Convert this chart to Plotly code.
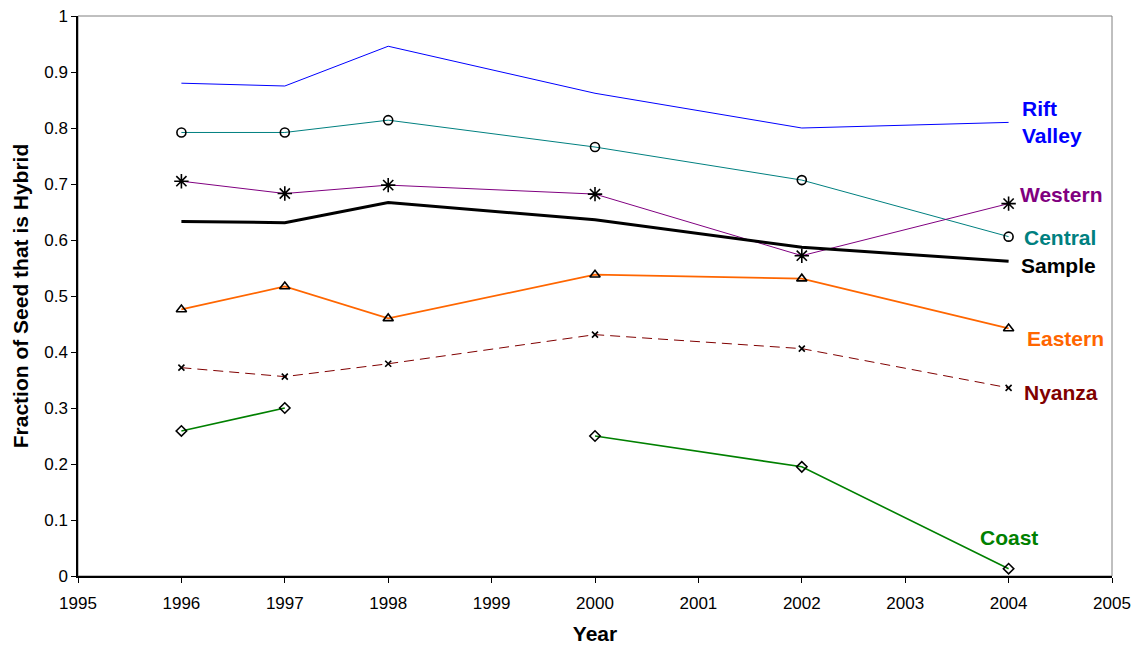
import plotly.graph_objects as go

years = [1996, 1997, 1998, 2000, 2002, 2004]
rift_valley = [0.880, 0.875, 0.946, 0.862, 0.800, 0.810]
central = [0.792, 0.792, 0.814, 0.766, 0.707, 0.606]
western = [0.705, 0.683, 0.698, 0.682, 0.572, 0.665]
sample = [0.633, 0.631, 0.667, 0.636, 0.587, 0.562]
eastern = [0.476, 0.517, 0.460, 0.538, 0.531, 0.442]
nyanza = [0.372, 0.356, 0.379, 0.431, 0.406, 0.336]
coast = [0.259, 0.300, None, 0.250, 0.195, 0.013]

x_ticks = list(range(1995, 2006))
y_ticks = [0, 0.1, 0.2, 0.3, 0.4, 0.5, 0.6, 0.7, 0.8, 0.9, 1]

FONT = "Liberation Sans, Arial, sans-serif"

series = [
    ("Rift Valley", rift_valley, "#0000FF", 1, "solid", None, 0),
    ("Central", central, "#008080", 1, "solid", "circle-open", 9),
    ("Western", western, "#800080", 1, "solid", "asterisk-open", 12),
    ("Sample", sample, "#000000", 3, "solid", None, 0),
    ("Eastern", eastern, "#FF6600", 1.8, "solid", "triangle-up-open", 9),
    ("Nyanza", nyanza, "#800000", 1, "10px,6px", "x-thin-open", 6),
    ("Coast", coast, "#008000", 1.6, "solid", "diamond-open", 8),
]

fig = go.Figure()
for name, vals, color, width, dash, sym, size in series:
    mode = "lines+markers" if sym else "lines"
    marker = dict(symbol=sym, size=size, color="#000000",
                  line=dict(color="#000000", width=1.6)) if sym else None
    fig.add_trace(go.Scatter(
        x=years, y=vals, name=name, mode=mode,
        line=dict(color=color, width=width, dash=dash),
        marker=marker, connectgaps=False, showlegend=False,
    ))

labels = [
    ("Rift<br>Valley", 0.811, "#0000FF", 11, "left"),
    ("Western", 0.682, "#800080", 9, "left"),
    ("Central", 0.604, "#008080", 13, "left"),
    ("Sample", 0.554, "#000000", 10, "left"),
    ("Eastern", 0.425, "#FF6600", 16, "left"),
    ("Nyanza", 0.328, "#800000", 13, "left"),
    ("Coast", 0.069, "#008000", 0, "center"),
]
for text, yv, color, xs, anchor in labels:
    fig.add_annotation(
        x=2004, y=yv, xref="x", yref="y", text=text, showarrow=False,
        xanchor=anchor, yanchor="middle", xshift=xs, align="left",
        font=dict(family=FONT, size=21, color=color, weight="bold"),
    )

fig.add_shape(type="rect", xref="paper", yref="paper", x0=0, y0=0, x1=1, y1=1,
              line=dict(color="#808080", width=1), layer="below")

fig.update_layout(
    width=1137, height=647,
    margin=dict(l=78, r=25, t=16, b=71),
    paper_bgcolor="white", plot_bgcolor="white",
    font=dict(family=FONT, size=17, color="#000000"),
    hovermode=False,
)
fig.update_xaxes(
    range=[1995, 2005], tickvals=x_ticks, ticktext=[str(v) for v in x_ticks],
    showgrid=False, zeroline=False, showline=True, linecolor="#000000", linewidth=1.5,
    ticks="outside", ticklen=5, tickcolor="#000000", ticklabelstandoff=6,
    ticklabeloverflow="allow", automargin=False,
    tickfont=dict(family=FONT, size=17),
    title=dict(text="Year", font=dict(family=FONT, size=21, weight="bold"), standoff=14),
)
fig.update_yaxes(
    range=[0, 1], tickvals=y_ticks, ticktext=[f"{v:g}" for v in y_ticks],
    showgrid=False, zeroline=False, showline=True, linecolor="#000000", linewidth=1.5,
    ticks="outside", ticklen=5, tickcolor="#000000",
    ticklabeloverflow="allow", automargin=False,
    tickfont=dict(family=FONT, size=17),
    title=dict(text="Fraction of Seed that is Hybrid",
               font=dict(family=FONT, size=21, weight="bold"), standoff=10),
)

# remove the browser's default 8px body margin so the figure fills the window exactly
fig.write_html("out.html",
               config={"displayModeBar": False},
               post_script="document.body.style.margin='0';document.body.style.overflow='hidden';")
